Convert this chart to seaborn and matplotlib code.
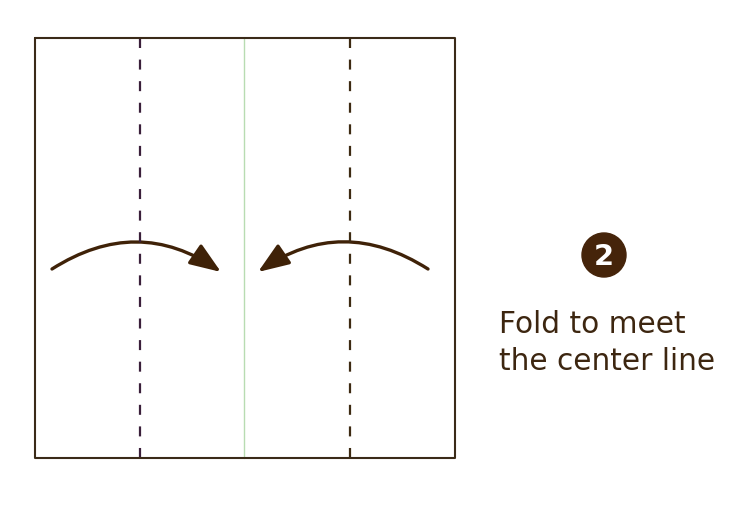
import matplotlib
matplotlib.use("Agg")
import matplotlib.pyplot as plt
import seaborn as sns
from matplotlib.patches import FancyArrowPatch, Circle

# paper square (pixel coords of the diagram)
square_x = [35, 455, 455, 35, 35]
square_y = [39, 39, 459, 459, 39]
# fold lines
fold_left_x = 140
fold_right_x = 350
center_x = 244
fold_top, fold_bottom = 39, 459
# arrows: start and end points
arrow_left = [(52, 270), (221, 273)]
arrow_right = [(428, 270), (258, 273)]
step_label = "2"
step_pos = (604, 256)
caption = ["Fold to meet", "the center line"]

sns.set_theme(style="white")
plt.rcParams['font.family'] = ['DejaVu Sans']

fig = plt.figure(figsize=(7.52, 5.06), dpi=100)
ax = fig.add_axes([0, 0, 1, 1])

brown = "#3f2208"
line_kw = dict(sort=False, estimator=None, errorbar=None, ax=ax)
dash = (0, (4.5, 5.21))

# center crease
sns.lineplot(x=[center_x, center_x], y=[fold_top, fold_bottom],
             color="#b8dcb2", linewidth=1.0, **line_kw)
# dashed valley folds
sns.lineplot(x=[fold_left_x, fold_left_x], y=[fold_top, fold_bottom],
             color="#3a1f3a", linewidth=1.6, linestyle=dash, **line_kw)
sns.lineplot(x=[fold_right_x, fold_right_x], y=[fold_top, fold_bottom],
             color="#3d2a12", linewidth=1.6, linestyle=dash, **line_kw)
# outline
sns.lineplot(x=square_x, y=square_y, color="#3a2a18", linewidth=1.5, **line_kw)

for (p0, p1), rad in [(arrow_left, -0.33), (arrow_right, 0.33)]:
    arr = FancyArrowPatch(p0, p1, connectionstyle=f"arc3,rad={rad}",
                          arrowstyle="-|>,head_length=0.95,head_width=0.36",
                          mutation_scale=20, color=brown, linewidth=2.4,
                          shrinkA=0, shrinkB=0)
    ax.add_patch(arr)

ax.add_patch(Circle(step_pos, 22, color="#45240a"))
ax.text(step_pos[0], step_pos[1] + 1, step_label, color="white", fontsize=21,
        fontweight="bold", ha="center", va="center")

for i, line in enumerate(caption):
    ax.text(499, 333 + 37 * i, line, color="#3d2610", fontsize=21.3,
            ha="left", va="baseline")

ax.set_xlim(0, 752)
ax.set_ylim(506, 0)
ax.axis("off")

fig.savefig("out.png", dpi=100)
